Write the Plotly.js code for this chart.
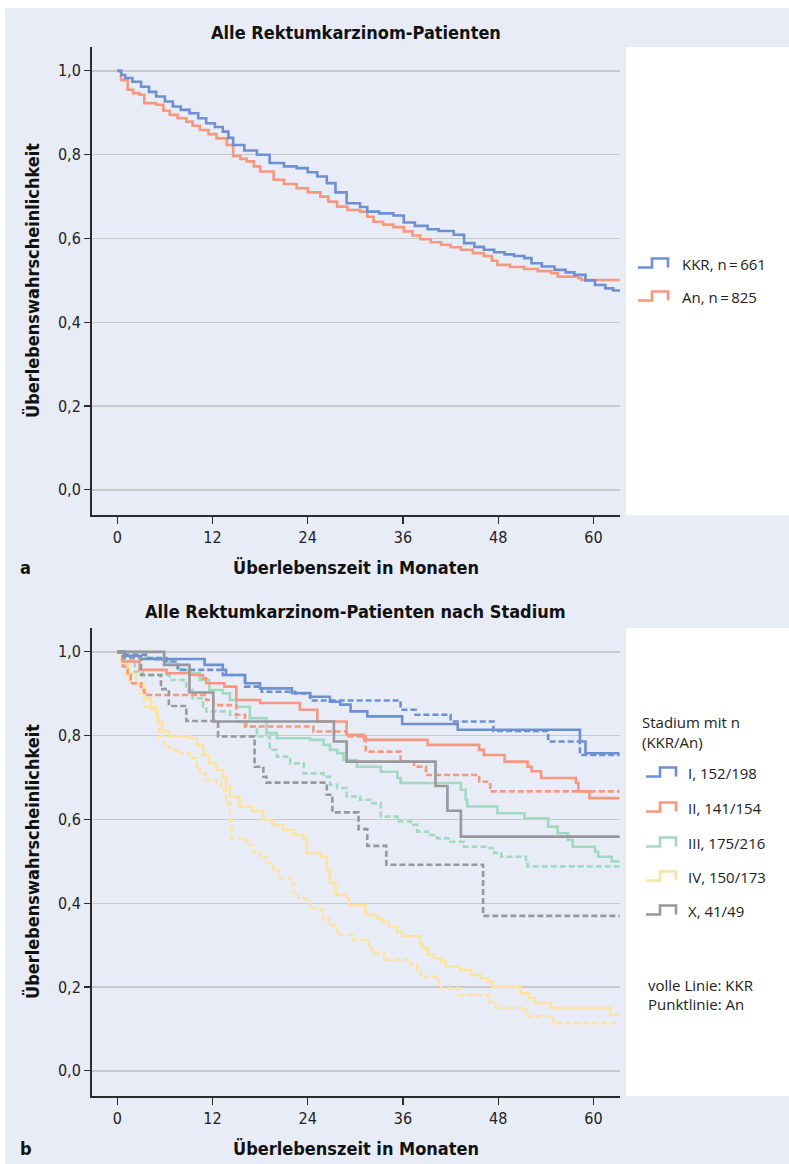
<!DOCTYPE html>
<html><head><meta charset="utf-8">
<script src="https://cdn.plot.ly/plotly-3.0.1.min.js"></script>
<style>html,body{margin:0;padding:0;background:#fff}</style>
</head><body><div id="chart" style="width:789px;height:1164px"></div>
<script>
// ---------- Panel a: all rectal cancer patients ----------
const aKKR_t = [0,0.5,1.0,1.9,3.0,4.0,4.9,6.0,7.0,8.0,9.1,10.2,11.2,12.3,13.3,14.0,14.6,16.0,17.6,19.2,21.0,22.6,24.0,25.2,26.4,27.5,28.9,30.6,31.5,33.0,34.8,36.1,37.5,39.1,40.5,42.4,43.7,45.0,46.2,47.5,48.8,50.0,51.3,52.2,53.5,55.1,56.5,57.6,59.0,60.2,61.5,62.5,63.3];
const aKKR_s = [1.0,0.99,0.983,0.974,0.962,0.95,0.939,0.927,0.915,0.907,0.899,0.887,0.875,0.866,0.855,0.84,0.823,0.81,0.8,0.78,0.772,0.768,0.758,0.748,0.732,0.71,0.684,0.675,0.664,0.66,0.655,0.638,0.63,0.622,0.618,0.609,0.589,0.58,0.573,0.567,0.562,0.558,0.553,0.541,0.533,0.525,0.519,0.513,0.5,0.489,0.481,0.476,0.473];
const aAn_t = [0,0.47,1.3,2.0,2.8,3.4,4.9,5.8,6.6,7.6,8.7,9.5,10.4,11.5,12.5,13.8,14.6,15.5,16.3,17.2,18.0,19.7,21.0,22.6,24.0,25.6,26.6,27.7,29.0,30.6,31.5,32.3,33.5,34.8,36.1,37.2,38.2,39.5,40.8,42.0,43.3,44.8,46.2,47.2,47.9,49.5,51.3,53.0,54.7,55.5,58.1,58.5,63.3];
const aAn_s = [1.0,0.978,0.955,0.947,0.943,0.923,0.919,0.905,0.895,0.887,0.879,0.869,0.859,0.849,0.839,0.823,0.797,0.79,0.784,0.772,0.76,0.74,0.73,0.72,0.71,0.7,0.688,0.676,0.668,0.664,0.652,0.64,0.633,0.627,0.617,0.607,0.598,0.591,0.585,0.579,0.573,0.565,0.558,0.547,0.537,0.532,0.527,0.522,0.517,0.509,0.505,0.501,0.501];
const aLegend = ["KKR, n\u2009=\u2009661", "An, n\u2009=\u2009825"];

// ---------- Panel b: by stage (solid = KKR, dashed = An) ----------
const I_KKR_t = [0,1.0,3.0,11.0,13.3,13.7,16.1,18.0,22.0,24.3,26.8,28.1,29.4,31.5,35.9,42.9,58.3,59.0,63.3];
const I_KKR_s = [1.0,0.99,0.983,0.969,0.957,0.945,0.925,0.913,0.902,0.893,0.881,0.874,0.858,0.846,0.828,0.814,0.786,0.758,0.758];
const I_An_t = [0,0.7,3.6,6.2,7.6,13.3,16.1,18.2,22.4,24.3,35.7,37.6,42.0,47.4,54.3,58.3,63.3];
const I_An_s = [1.0,0.993,0.985,0.977,0.957,0.945,0.917,0.905,0.901,0.884,0.862,0.85,0.834,0.811,0.786,0.754,0.754];

const II_KKR_t = [0,0.7,2.8,6.2,9.1,10.8,11.2,13.5,15.0,18.0,23.0,25.2,28.9,31.1,39.1,45.6,46.2,48.8,51.7,52.2,53.4,57.8,58.1,59.5,63.3];
const II_KKR_s = [1.0,0.977,0.957,0.949,0.945,0.937,0.925,0.917,0.885,0.878,0.862,0.834,0.802,0.79,0.778,0.766,0.754,0.738,0.726,0.715,0.699,0.687,0.667,0.651,0.651];
const II_An_t = [0,0.7,1.3,1.7,3.0,3.4,11.2,12.1,15.0,16.1,24.7,28.9,31.3,35.7,37.4,38.9,45.6,47.0,63.3];
const II_An_s = [1.0,0.965,0.945,0.925,0.909,0.897,0.885,0.873,0.85,0.822,0.81,0.798,0.762,0.738,0.726,0.706,0.69,0.667,0.667];

const III_KKR_t = [0,3.6,4.9,6.6,7.8,9.1,10.4,11.6,13.3,14.2,15.0,16.7,18.8,20.1,24.3,26.0,26.8,27.7,28.5,30.2,33.2,35.3,35.7,43.3,43.9,44.1,47.9,51.3,54.3,55.5,56.8,57.4,60.2,60.6,62.3,63.3];
const III_KKR_s = [1.0,0.985,0.981,0.969,0.957,0.949,0.933,0.909,0.901,0.885,0.869,0.842,0.806,0.794,0.79,0.778,0.766,0.758,0.742,0.726,0.714,0.699,0.687,0.671,0.647,0.631,0.615,0.603,0.583,0.567,0.551,0.535,0.523,0.511,0.5,0.5];
const III_An_t = [0,0.7,2.2,3.2,6.6,8.7,9.5,10.8,11.2,14.2,15.0,16.3,17.6,19.2,20.1,21.8,23.5,26.0,26.8,27.7,28.9,30.6,31.9,33.2,35.3,37.0,37.8,39.1,40.3,42.0,43.7,46.7,47.5,48.4,51.5,51.7,63.3];
const III_An_s = [1.0,0.977,0.953,0.945,0.933,0.909,0.889,0.869,0.858,0.85,0.834,0.822,0.798,0.766,0.75,0.734,0.71,0.702,0.683,0.675,0.655,0.647,0.639,0.607,0.595,0.587,0.571,0.563,0.555,0.547,0.535,0.532,0.52,0.511,0.5,0.488,0.488];

const IV_KKR_t = [0,0.9,1.5,2.4,3.4,3.6,4.3,4.9,5.1,5.7,6.6,9.1,10.0,10.8,11.6,12.5,13.3,13.7,14.2,15.4,17.0,18.4,19.5,20.9,22.2,23.5,23.9,25.6,26.4,26.8,27.5,28.9,29.2,31.3,32.7,33.4,34.2,35.3,35.9,38.2,38.4,39.1,39.9,40.8,41.4,43.1,44.6,45.8,46.7,47.3,50.7,50.9,51.9,52.6,54.7,62.1,63.3];
const IV_KKR_s = [1.0,0.969,0.949,0.925,0.909,0.889,0.869,0.846,0.83,0.81,0.798,0.794,0.778,0.754,0.734,0.718,0.702,0.679,0.655,0.631,0.62,0.599,0.587,0.575,0.563,0.555,0.52,0.511,0.48,0.448,0.42,0.412,0.396,0.372,0.364,0.356,0.344,0.332,0.321,0.305,0.293,0.277,0.269,0.261,0.249,0.241,0.229,0.221,0.213,0.201,0.197,0.185,0.174,0.162,0.15,0.134,0.134];
const IV_An_t = [0,0.5,1.1,1.5,2.8,3.4,4.3,5.1,5.3,5.9,6.6,7.8,9.1,10.0,10.4,11.2,12.5,13.1,13.7,14.2,14.4,15.9,16.5,17.1,18.0,18.8,19.7,20.3,21.8,22.2,22.8,23.9,24.3,25.6,26.0,26.6,27.7,29.8,31.7,32.1,33.6,37.0,37.8,38.2,40.5,40.8,43.1,46.7,47.7,51.5,54.9,63.3];
const IV_An_s = [1.0,0.97,0.941,0.925,0.901,0.869,0.862,0.838,0.798,0.774,0.766,0.758,0.746,0.726,0.71,0.695,0.687,0.671,0.639,0.599,0.555,0.551,0.539,0.523,0.511,0.496,0.48,0.46,0.448,0.424,0.412,0.408,0.388,0.384,0.364,0.348,0.325,0.313,0.293,0.281,0.265,0.253,0.241,0.225,0.209,0.197,0.181,0.165,0.15,0.13,0.114,0.114];

const X_KKR_t = [0,5.9,9.1,12.1,27.3,28.9,40.1,41.6,43.3,63.3];
const X_KKR_s = [1.0,0.969,0.903,0.834,0.786,0.738,0.68,0.621,0.559,0.559];
const X_An_t = [0,0.7,3.0,5.5,6.5,8.7,12.7,17.3,18.4,18.8,26.4,27.1,30.4,31.5,33.9,46.1,63.3];
const X_An_s = [1.0,0.985,0.945,0.911,0.871,0.835,0.798,0.726,0.702,0.688,0.659,0.617,0.577,0.537,0.492,0.37,0.37];

const stageLabels = ["I, 152/198","II, 141/154","III, 175/216","IV, 150/173","X, 41/49"];
const xTicks = [0,12,24,36,48,60];
const yTicks = [0,0.2,0.4,0.6,0.8,1.0];

// ---------- styling ----------
const W = 789, H = 1164;
const px = x => x / W;
const py = y => 1 - y / H;
const BLUE = '#6c90d2', SALMON = '#f7977e', MINT = '#a2d9c1', YELLOW = '#fde3a3', GREY = '#98989d';
const LAV = '#e8ecf6';
const CONDB = 'Liberation Sans Narrow, DejaVu Sans Condensed, Roboto Condensed, Liberation Sans, sans-serif';
const BODY = 'Open Sans, Noto Sans, sans-serif';
const DASH = '6px,3px';

function tr(t, s, color, dash, xa, ya) {
  return {x: t, y: s, type: 'scatter', mode: 'lines', xaxis: xa, yaxis: ya,
    line: {shape: 'hv', color: color, width: 2.6, dash: dash || 'solid'},
    hoverinfo: 'skip', showlegend: false};
}

const data = [
  tr(aAn_t, aAn_s, SALMON, null, 'x', 'y'),
  tr(aKKR_t, aKKR_s, BLUE, null, 'x', 'y'),
  tr(IV_An_t, IV_An_s, YELLOW, DASH, 'x2', 'y2'),
  tr(IV_KKR_t, IV_KKR_s, YELLOW, null, 'x2', 'y2'),
  tr(III_An_t, III_An_s, MINT, DASH, 'x2', 'y2'),
  tr(III_KKR_t, III_KKR_s, MINT, null, 'x2', 'y2'),
  tr(II_An_t, II_An_s, SALMON, DASH, 'x2', 'y2'),
  tr(II_KKR_t, II_KKR_s, SALMON, null, 'x2', 'y2'),
  tr(I_An_t, I_An_s, BLUE, DASH, 'x2', 'y2'),
  tr(I_KKR_t, I_KKR_s, BLUE, null, 'x2', 'y2'),
  tr(X_An_t, X_An_s, GREY, DASH, 'x2', 'y2'),
  tr(X_KKR_t, X_KKR_s, GREY, null, 'x2', 'y2')
];

const xAxisBase = {
  range: [-3.25, 63.35], tickvals: xTicks, showgrid: false, zeroline: false,
  showline: true, linecolor: '#2b2b2b', linewidth: 1.5, mirror: false,
  ticks: 'outside', ticklen: 7, tickwidth: 1.2, tickcolor: '#2b2b2b',
  tickfont: {family: CONDB, size: 16, color: '#222'}, fixedrange: true
};
const yAxisBase = {
  range: [-0.06, 1.057], tickvals: yTicks, tickformat: '.1f',
  showgrid: true, gridcolor: '#c9c9c9', gridwidth: 1.5, zeroline: false,
  showline: true, linecolor: '#2b2b2b', linewidth: 1.5,
  ticks: 'outside', ticklen: 6, tickwidth: 1.2, tickcolor: '#2b2b2b',
  tickfont: {family: CONDB, size: 16, color: '#222'}, fixedrange: true
};

const domX = [px(91.5), px(620)];
const layout = {
  width: W, height: H, margin: {l: 0, r: 0, t: 0, b: 0},
  paper_bgcolor: '#ffffff', plot_bgcolor: '#ffffff', separators: ', ',
  showlegend: false,
  xaxis: Object.assign({}, xAxisBase, {domain: domX, anchor: 'y'}),
  yaxis: Object.assign({}, yAxisBase, {domain: [py(515), py(47)], anchor: 'x'}),
  xaxis2: Object.assign({}, xAxisBase, {domain: domX, anchor: 'y2'}),
  yaxis2: Object.assign({}, yAxisBase, {domain: [py(1096), py(628)], anchor: 'x2'}),
  shapes: [], annotations: []
};

const S = layout.shapes, A = layout.annotations;
// lavender background panel and white legend boxes
S.push({type: 'rect', xref: 'paper', yref: 'paper', x0: px(5), x1: 1, y0: 0, y1: py(8), fillcolor: LAV, line: {width: 0}, layer: 'below'});
S.push({type: 'rect', xref: 'paper', yref: 'paper', x0: px(626), x1: 1, y0: py(515), y1: py(47), fillcolor: '#fff', line: {width: 0}, layer: 'below'});
S.push({type: 'rect', xref: 'paper', yref: 'paper', x0: px(626), x1: 1, y0: py(1096), y1: py(628), fillcolor: '#fff', line: {width: 0}, layer: 'below'});

function stepIcon(x0, yc, color) {
  const lo = yc + 4.5, hi = yc - 4.5;
  const p = `M ${px(x0)},${py(lo)} L ${px(x0 + 14)},${py(lo)} L ${px(x0 + 14)},${py(hi)} L ${px(x0 + 30)},${py(hi)} L ${px(x0 + 30)},${py(lo)}`;
  S.push({type: 'path', xref: 'paper', yref: 'paper', path: p, line: {color: color, width: 2.6}, layer: 'above'});
}
function txt(text, x, y, opts) {
  A.push(Object.assign({text: text, xref: 'paper', yref: 'paper', x: px(x), y: py(y), showarrow: false,
    xanchor: 'left', yanchor: 'middle', font: {family: BODY, size: 15, color: '#222'}}, opts || {}));
}

// Legend a
stepIcon(638, 263, BLUE); txt(aLegend[0], 680, 264);
stepIcon(638, 296, SALMON); txt(aLegend[1], 680, 297);

// Legend b
txt('Stadium mit n', 640, 722);
txt('(KKR/An)', 640, 742);
const stageColors = [BLUE, SALMON, MINT, YELLOW, GREY];
const stageY = [773, 808, 843, 877, 911];
stageLabels.forEach((lab, i) => { stepIcon(646, stageY[i] - 1, stageColors[i]); txt(lab, 686, stageY[i]); });
txt('volle Linie: KKR', 646, 985);
txt('Punktlinie: An', 646, 1004);

// Titles
const TF = {family: CONDB, size: 18, color: '#111'};
txt('<b>Alle Rektumkarzinom-Patienten</b>', 355.5, 32, {xanchor: 'center', font: TF});
txt('<b>Alle Rektumkarzinom-Patienten nach Stadium</b>', 355.5, 611, {xanchor: 'center', font: TF});
txt('<b>Überlebenszeit in Monaten</b>', 355.5, 567, {xanchor: 'center', font: TF});
txt('<b>Überlebenszeit in Monaten</b>', 355.5, 1148, {xanchor: 'center', font: TF});
txt('<b>Überlebenswahrscheinlichkeit</b>', 32, 281, {xanchor: 'center', textangle: -90, font: TF});
txt('<b>Überlebenswahrscheinlichkeit</b>', 32, 862, {xanchor: 'center', textangle: -90, font: TF});
txt('<b>a</b>', 18, 567, {font: TF});
txt('<b>b</b>', 18, 1148, {font: TF});

Plotly.newPlot('chart', data, layout, {staticPlot: true, displayModeBar: false});
</script>
</body></html>
